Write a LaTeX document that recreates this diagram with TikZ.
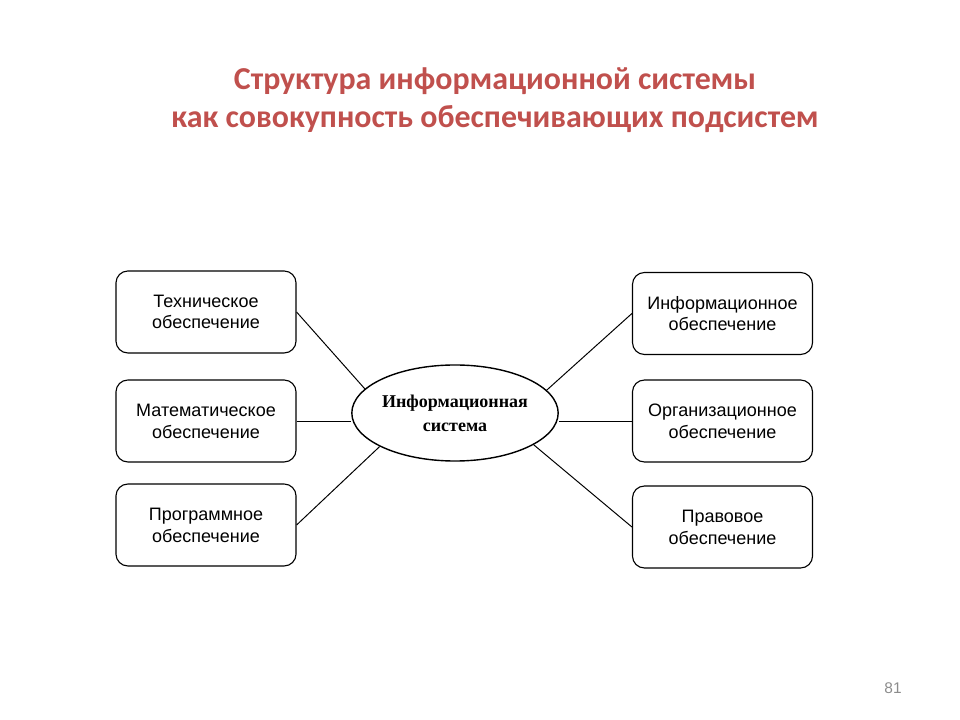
\documentclass[tikz,border=0pt]{standalone}
\usepackage{fontspec}
\setmainfont{Liberation Sans}
\newfontfamily\titlefont{Carlito}
\newfontfamily\ellfont{Liberation Serif}
\usetikzlibrary{shapes.geometric}
\definecolor{titlered}{RGB}{192,80,77}
\definecolor{pagegray}{RGB}{140,140,140}

\begin{document}
\begin{tikzpicture}[x=0.025cm, y=-0.025cm,
        podbox/.style={draw, rounded corners=8.5pt, line width=0.8pt,
            minimum width=4.5cm, minimum height=2.05cm, align=center,
            font=\fontsize{12.8}{15.5}\selectfont},
        link/.style={draw, line width=0.7pt}]
        \useasboundingbox (0,0) rectangle (960,720);

        % заголовок
        \node[text=titlered, align=center, font=\titlefont\bfseries\fontsize{22.7}{27}\selectfont] (title) at (495,100)
            {Структура информационной системы\\как совокупность обеспечивающих подсистем};

        % центр
        \node[draw, ellipse, line width=1pt, minimum width=5cm, minimum height=2.4cm, inner sep=0pt,
            align=center, font=\ellfont\bfseries\fontsize{12.8}{17}\selectfont] (is) at (455,413)
            {Информационная\\система};

        % слева
        \node[podbox] (tech) at (206,312) {Техническое\\обеспечение};
        \node[podbox] (math) at (206,421) {Математическое\\обеспечение};
        \node[podbox] (prog) at (206,525) {Программное\\обеспечение};

        % справа
        \node[podbox] (info) at (722.5,313.5) {Информационное\\обеспечение};
        \node[podbox] (org) at (722.5,421) {Организационное\\обеспечение};
        \node[podbox] (law) at (722.5,527) {Правовое\\обеспечение};

        \draw[link] (tech.east) -- (is.165);
        \draw[link] (math.east) -- (math.east -| is.west);
        \draw[link] (prog.east) -- (is.204);
        \draw[link] (info.west) -- (is.14);
        \draw[link] (org.west) -- (org.west -| is.east);
        \draw[link] (law.west) -- (is.338);

        \node[text=pagegray, font=\fontsize{11}{13}\selectfont] (page) at (893,688) {81};
\end{tikzpicture}
\end{document}
